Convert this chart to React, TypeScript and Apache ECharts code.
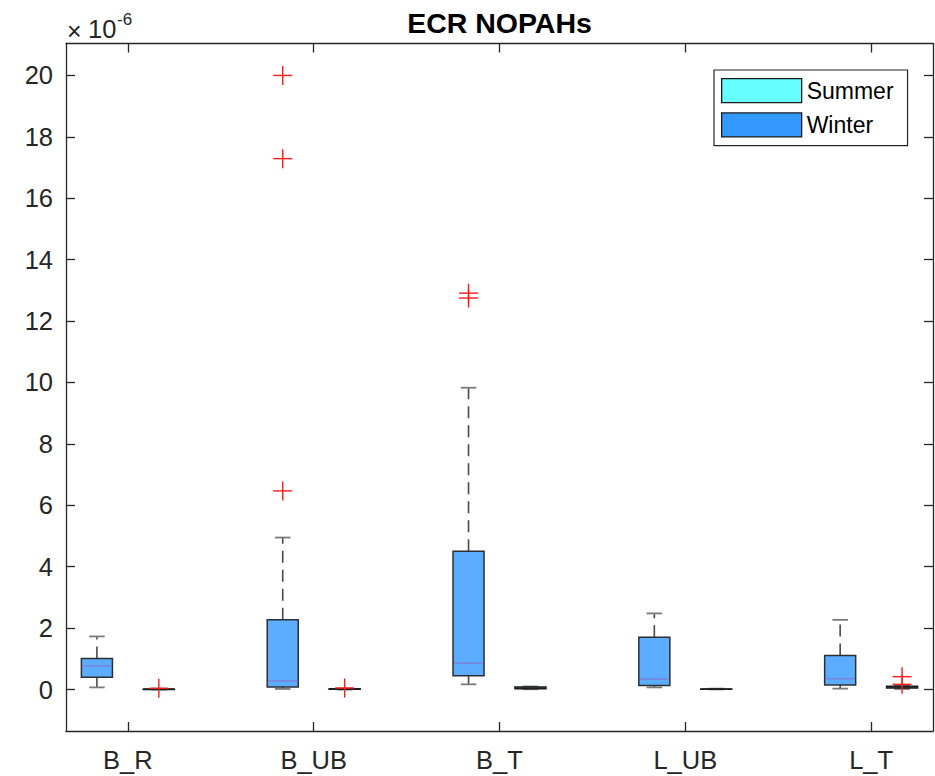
import React, { useEffect, useRef } from 'react';
import * as echarts from 'echarts';

// Category names (x axis tick labels)
const categories = ['B_R', 'B_UB', 'B_T', 'L_UB', 'L_T'];
// y tick values (in units of 1e-6)
const yTicks = [0, 2, 4, 6, 8, 10, 12, 14, 16, 18, 20];
const xTicks = [1, 2, 3, 4, 5];

// Box statistics [lower whisker, q1, median, q3, upper whisker] (×1e-6)
const winterStats = [
  [0.07, 0.4, 0.77, 1.01, 1.73],
  [0.02, 0.08, 0.28, 2.27, 4.95],
  [0.17, 0.45, 0.86, 4.5, 9.83],
  [0.07, 0.13, 0.34, 1.7, 2.48],
  [0.03, 0.15, 0.35, 1.11, 2.27],
];
const summerStats = [
  [0.0, 0.005, 0.01, 0.015, 0.03],
  [0.0, 0.01, 0.015, 0.025, 0.035],
  [0.01, 0.03, 0.05, 0.08, 0.1],
  [0.005, 0.01, 0.015, 0.02, 0.03],
  [0.02, 0.05, 0.08, 0.11, 0.14],
];
// Outliers [category number (1-based), value ×1e-6]
const winterOutliers = [
  [2, 6.47],
  [2, 17.29],
  [2, 20.0],
  [3, 12.91],
  [3, 12.75],
];
const summerOutliers = [
  [1, 0.04],
  [2, 0.05],
  [5, 0.42],
  [5, 0.17],
];

const FONT = '"Liberation Sans", Arial, Helvetica, sans-serif';
const AX = '#262626';
const OFFSET = 1 / 6;
const BOX_W = 0.167;

function boxRenderer(fill: string, median: string, border: string) {
  return (params: any, api: any) => {
    const x = api.value(0);
    const lo = api.coord([x, api.value(1)]);
    const q1 = api.coord([x, api.value(2)]);
    const md = api.coord([x, api.value(3)]);
    const q3 = api.coord([x, api.value(4)]);
    const hi = api.coord([x, api.value(5)]);
    const w = api.size([BOX_W, 0])[0];
    const cx = lo[0];
    const cw = w / 2;
    return {
      type: 'group',
      children: [
        {
          type: 'line',
          shape: { x1: cx, y1: q3[1], x2: cx, y2: hi[1] },
          style: { stroke: '#4a4a4a', lineWidth: 1.6, lineDash: [12, 7] },
        },
        {
          type: 'line',
          shape: { x1: cx, y1: q1[1], x2: cx, y2: lo[1] },
          style: { stroke: '#4a4a4a', lineWidth: 1.6, lineDash: [12, 7] },
        },
        {
          type: 'line',
          shape: { x1: cx - cw / 2, y1: hi[1], x2: cx + cw / 2, y2: hi[1] },
          style: { stroke: '#7a7a7a', lineWidth: 1.8 },
        },
        {
          type: 'line',
          shape: { x1: cx - cw / 2, y1: lo[1], x2: cx + cw / 2, y2: lo[1] },
          style: { stroke: '#7a7a7a', lineWidth: 1.8 },
        },
        {
          type: 'rect',
          shape: { x: cx - w / 2, y: q3[1], width: w, height: q1[1] - q3[1] },
          style: { fill, stroke: border, lineWidth: 1.5 },
        },
        {
          type: 'line',
          shape: { x1: cx - w / 2 + 1, y1: md[1], x2: cx + w / 2 - 1, y2: md[1] },
          style: { stroke: median, lineWidth: 1.4 },
        },
      ],
    };
  };
}

function plusRenderer(params: any, api: any) {
  const p = api.coord([api.value(0), api.value(1)]);
  const r = 9.5;
  return {
    type: 'group',
    children: [
      { type: 'line', shape: { x1: p[0] - r, y1: p[1], x2: p[0] + r, y2: p[1] }, style: { stroke: '#ff1a1a', lineWidth: 1.4 } },
      { type: 'line', shape: { x1: p[0], y1: p[1] - r, x2: p[0], y2: p[1] + r }, style: { stroke: '#ff1a1a', lineWidth: 1.4 } },
    ],
  };
}

export default function App() {
  const ref = useRef<HTMLDivElement>(null);
  useEffect(() => {
    document.body.style.margin = '0';
    if (!ref.current) return;
    const chart = echarts.init(ref.current, null, { renderer: 'svg' });

    const winterData = winterStats.map((s, i) => [i + 1 - OFFSET, ...s]);
    const summerData = summerStats.map((s, i) => [i + 1 + OFFSET, ...s]);
    const winterOut = winterOutliers.map(([c, v]) => [c - OFFSET, v]);
    const summerOut = summerOutliers.map(([c, v]) => [c + OFFSET, v]);

    const axisCommon = {
      axisLine: { show: true, onZero: false, lineStyle: { color: AX, width: 1.3 } },
      splitLine: { show: false },
    };

    chart.setOption({
      animation: false,
      backgroundColor: '#ffffff',
      grid: { left: 66, right: 2, top: 43.5, bottom: 45, containLabel: false },
      xAxis: [
        {
          type: 'value',
          min: 0.667,
          max: 5.333,
          position: 'bottom',
          ...axisCommon,
          axisTick: { show: true, inside: true, length: 9, customValues: xTicks, lineStyle: { color: AX, width: 1.3 } },
          axisLabel: {
            show: true,
            customValues: xTicks,
            formatter: (v: number) => categories[Math.round(v) - 1] ?? '',
            fontSize: 25.5,
            fontFamily: FONT,
            color: AX,
            verticalAlign: 'middle',
            margin: 29,
          },
        },
        {
          type: 'value',
          min: 0.667,
          max: 5.333,
          position: 'top',
          ...axisCommon,
          axisTick: { show: true, inside: true, length: 9, customValues: xTicks, lineStyle: { color: AX, width: 1.3 } },
          axisLabel: { show: false },
        },
      ],
      yAxis: [
        {
          type: 'value',
          min: -1.35,
          max: 21.04,
          position: 'left',
          ...axisCommon,
          axisTick: { show: true, inside: true, length: 9, customValues: yTicks, lineStyle: { color: AX, width: 1.3 } },
          axisLabel: {
            show: true,
            customValues: yTicks,
            fontSize: 25.5,
            fontFamily: FONT,
            color: AX,
            margin: 13,
          },
        },
        {
          type: 'value',
          min: -1.35,
          max: 21.04,
          position: 'right',
          ...axisCommon,
          axisTick: { show: true, inside: true, length: 9, customValues: yTicks, lineStyle: { color: AX, width: 1.3 } },
          axisLabel: { show: false },
        },
      ],
      legend: {
        orient: 'vertical',
        left: 714,
        top: 70,
        itemWidth: 80,
        itemHeight: 24,
        itemGap: 9,
        padding: [8, 14, 8, 7],
        borderColor: AX,
        borderWidth: 1.2,
        backgroundColor: '#ffffff',
        selectedMode: false,
        textStyle: { fontSize: 23, fontFamily: FONT, color: '#000000' },
        data: [
          { name: 'Summer', icon: 'rect', itemStyle: { color: '#66ffff', borderColor: '#1a1a1a', borderWidth: 1.3 } },
          { name: 'Winter', icon: 'rect', itemStyle: { color: '#3399ff', borderColor: '#1a1a1a', borderWidth: 1.3 } },
        ],
      },
      graphic: [
        {
          type: 'text',
          x: 499.5,
          y: 23,
          style: { text: 'ECR NOPAHs', fontSize: 28.5, fontWeight: 'bold', fontFamily: FONT, fill: '#000000', align: 'center', verticalAlign: 'middle' },
        },
        {
          type: 'text',
          x: 67,
          y: 31,
          style: { text: '×', fontSize: 25, fontFamily: FONT, fill: AX, align: 'left', verticalAlign: 'middle' },
        },
        {
          type: 'text',
          x: 88,
          y: 29,
          style: { text: '10', fontSize: 25.5, fontFamily: FONT, fill: AX, align: 'left', verticalAlign: 'middle' },
        },
        {
          type: 'text',
          x: 117,
          y: 19,
          style: { text: '-6', fontSize: 17, fontFamily: FONT, fill: AX, align: 'left', verticalAlign: 'middle' },
        },
      ],
      series: [
        {
          name: 'Winter',
          type: 'custom',
          xAxisIndex: 0,
          yAxisIndex: 0,
          itemStyle: { color: '#3399ff' },
          renderItem: boxRenderer('#5cadff', '#7a80d8', '#2a2f36'),
          encode: { x: 0, y: [1, 2, 3, 4, 5] },
          data: winterData,
          z: 2,
        },
        {
          name: 'Summer',
          type: 'custom',
          xAxisIndex: 0,
          yAxisIndex: 0,
          itemStyle: { color: '#66ffff' },
          renderItem: boxRenderer('#85ffff', '#222222', '#1a1a1a'),
          encode: { x: 0, y: [1, 2, 3, 4, 5] },
          data: summerData,
          z: 2,
        },
        {
          name: 'Winter outliers',
          type: 'custom',
          xAxisIndex: 0,
          yAxisIndex: 0,
          renderItem: plusRenderer,
          encode: { x: 0, y: 1 },
          data: winterOut,
          z: 3,
        },
        {
          name: 'Summer outliers',
          type: 'custom',
          xAxisIndex: 0,
          yAxisIndex: 0,
          renderItem: plusRenderer,
          encode: { x: 0, y: 1 },
          data: summerOut,
          z: 3,
        },
      ],
    });
    return () => chart.dispose();
  }, []);
  return <div ref={ref} style={{ width: 935, height: 776 }} />;
}
